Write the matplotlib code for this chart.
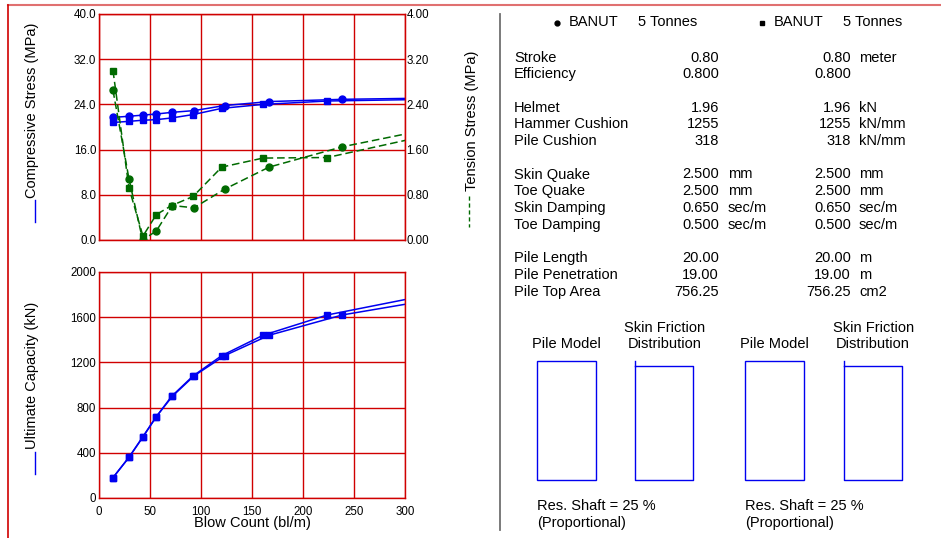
import matplotlib
matplotlib.use("Agg")
import matplotlib.pyplot as plt
from matplotlib.lines import Line2D
from matplotlib.patches import Rectangle
import numpy as np

plt.rcParams['font.family'] = ['Liberation Sans', 'DejaVu Sans']

# blow counts (bl/m) for the two hammer runs; last point lies past the plotted range
blows_a = [13.7, 29.4, 42.8, 56.2, 71.9, 93.1, 123.2, 166.7, 238.6, 356.0]
blows_b = [13.7, 29.4, 43.1, 56.2, 71.2, 92.2, 120.3, 160.8, 223.9, 324.6]

# ultimate capacity (kN) shared by both runs
capacity = [180, 360, 540, 720, 900, 1080, 1260, 1440, 1620, 1800]

# compressive stress (MPa)
comp_a = [21.7, 21.9, 22.1, 22.3, 22.6, 22.9, 23.8, 24.5, 24.9, 25.2]
comp_b = [20.8, 21.0, 21.2, 21.3, 21.6, 22.2, 23.3, 24.0, 24.6, 24.9]

# tension stress (MPa)
tens_a = [2.65, 1.08, 0.00, 0.16, 0.61, 0.57, 0.90, 1.29, 1.65, 2.08]
tens_b = [3.00, 0.92, 0.07, 0.45, 0.61, 0.77, 1.29, 1.45, 1.46, 1.86]

# input summary table
hammer_name = "BANUT"
hammer_size = "5 Tonnes"
param_rows = [
    ("Stroke", "0.80", "", "0.80", "meter"),
    ("Efficiency", "0.800", "", "0.800", ""),
    None,
    ("Helmet", "1.96", "", "1.96", "kN"),
    ("Hammer Cushion", "1255", "", "1255", "kN/mm"),
    ("Pile Cushion", "318", "", "318", "kN/mm"),
    None,
    ("Skin Quake", "2.500", "mm", "2.500", "mm"),
    ("Toe Quake", "2.500", "mm", "2.500", "mm"),
    ("Skin Damping", "0.650", "sec/m", "0.650", "sec/m"),
    ("Toe Damping", "0.500", "sec/m", "0.500", "sec/m"),
    None,
    ("Pile Length", "20.00", "", "20.00", "m"),
    ("Pile Penetration", "19.00", "", "19.00", "m"),
    ("Pile Top Area", "756.25", "", "756.25", "cm2"),
]
res_shaft = 25

W, H = 941, 538
BLUE = "#0000f0"
GREEN = "#006a00"
RED = "#d00000"
DASH = (0, (5, 2.5))


def fx(x):
    return x / W


def fy(y):
    return 1 - y / H


def pos(left, top, right, bottom):
    return [fx(left), fy(bottom), fx(right) - fx(left), fy(top) - fy(bottom)]


fig = plt.figure(figsize=(W / 100, H / 100), dpi=100)


def style_axes(ax):
    ax.set_xlim(0, 300)
    ax.set_xticks(np.arange(0, 301, 50))
    ax.grid(True, color=RED, linewidth=1.0)
    ax.set_axisbelow(True)
    for s in ax.spines.values():
        s.set_color(RED)
        s.set_linewidth(1.0)
    ax.tick_params(length=0, labelsize=8.3, pad=2)


# stresses
ax1 = fig.add_axes(pos(99, 14, 405, 240))
style_axes(ax1)
ax1.set_ylim(0, 40)
ax1.set_yticks(np.arange(0, 40.1, 8))
ax1.set_yticklabels([f"{v:.1f}" for v in np.arange(0, 40.1, 8)])
ax1.set_xticklabels([])
ax1.plot(blows_a, comp_a, color=BLUE, lw=1.1, marker="o", ms=5, mec=BLUE, mfc=BLUE)
ax1.plot(blows_b, comp_b, color=BLUE, lw=1.1, marker="s", ms=5, mec=BLUE, mfc=BLUE)

ax2 = ax1.twinx()
ax2.set_ylim(0, 4)
ax2.set_yticks(np.arange(0, 4.01, 0.8))
ax2.set_yticklabels([f"{v:.2f}" for v in np.arange(0, 4.01, 0.8)])
ax2.tick_params(length=0, labelsize=8.3, pad=1)
for s in ax2.spines.values():
    s.set_color(RED)
ax2.plot(blows_a, tens_a, color=GREEN, lw=1.1, ls=DASH, marker="o", ms=5,
         mec=GREEN, mfc=GREEN)
ax2.plot(blows_b, tens_b, color=GREEN, lw=1.1, ls=DASH, marker="s", ms=5,
         mec=GREEN, mfc=GREEN)

# capacity
ax3 = fig.add_axes(pos(99, 272, 405, 498))
style_axes(ax3)
ax3.set_ylim(0, 2000)
ax3.set_yticks(np.arange(0, 2001, 400))
ax3.tick_params(axis="x", pad=5.5)
ax3.plot(blows_a, capacity, color=BLUE, lw=1.1, marker="s", ms=5, mec=BLUE, mfc=BLUE)
ax3.plot(blows_b, capacity, color=BLUE, lw=1.1, marker="s", ms=5, mec=BLUE, mfc=BLUE)
ax3.set_xlabel("Blow Count (bl/m)", fontsize=10.5, labelpad=-1)

# axis titles with their line keys
fig.text(fx(32), fy(110), "Compressive Stress (MPa)", rotation=90, ha="center", va="center",
         fontsize=10.5)
fig.add_artist(Line2D([fx(35), fx(35)], [fy(200), fy(222)], color=BLUE, lw=1.0))
fig.text(fx(32), fy(375), "Ultimate Capacity (kN)", rotation=90, ha="center", va="center",
         fontsize=10.5)
fig.add_artist(Line2D([fx(35), fx(35)], [fy(452), fy(474)], color=BLUE, lw=1.0))
fig.text(fx(472), fy(121), "Tension Stress (MPa)", rotation=90, ha="center", va="center",
         fontsize=10.5)
fig.add_artist(Line2D([fx(469), fx(469)], [fy(196), fy(227)], color=GREEN, lw=1.0,
                      ls=(0, (3, 2))))

# frame and divider
fig.add_artist(Line2D([fx(8), fx(941)], [fy(5), fy(5)], color="#e07070", lw=1.5))
fig.add_artist(Line2D([fx(8), fx(8)], [fy(5), fy(538)], color=RED, lw=1.2))
fig.add_artist(Line2D([fx(500), fx(500)], [fy(14), fy(530)], color="#707070", lw=1.3))

# header
fs = 10.5
for bx, mk in ((557, "o"), (762, "s")):
    fig.add_artist(Line2D([fx(bx)], [fy(22.5)], marker=mk, ms=3.5, color="black", ls=""))
    fig.text(fx(bx + 12), fy(22.5), hammer_name, fontsize=fs, va="center")
    fig.text(fx(bx + 81), fy(22.5), hammer_size, fontsize=fs, va="center")

# parameter table
row_y = 57.5
for row in param_rows:
    if row is None:
        row_y += 16.5
        continue
    label, v1, u1, v2, u2 = row
    fig.text(fx(514), fy(row_y), label, fontsize=fs, va="center")
    fig.text(fx(719), fy(row_y), v1, fontsize=fs, va="center", ha="right")
    fig.text(fx(728), fy(row_y), u1, fontsize=fs, va="center")
    fig.text(fx(851), fy(row_y), v2, fontsize=fs, va="center", ha="right")
    fig.text(fx(859), fy(row_y), u2, fontsize=fs, va="center")
    row_y += 16.8

# pile model and skin friction sketches
for x0 in (536.7, 745.0):
    fig.text(fx(x0 + 29.5), fy(344.5), "Pile Model", fontsize=fs, va="center", ha="center")
    fig.add_artist(Rectangle((fx(x0), fy(480)), fx(59), fy(360.7) - fy(480),
                             transform=fig.transFigure, fill=False, ec=BLUE, lw=1.0))
    sx = x0 + 98.6
    fig.text(fx(sx + 29.5), fy(327.5), "Skin Friction", fontsize=fs, va="center", ha="center")
    fig.text(fx(sx + 29.5), fy(344.5), "Distribution", fontsize=fs, va="center", ha="center")
    fig.add_artist(Line2D([fx(sx), fx(sx), fx(sx + 58), fx(sx + 58), fx(sx)],
                          [fy(360.7), fy(480), fy(480), fy(366.3), fy(366.3)],
                          color=BLUE, lw=1.0))
    fig.text(fx(x0), fy(506.5), f"Res. Shaft = {res_shaft} %", fontsize=fs, va="center")
    fig.text(fx(x0), fy(523), "(Proportional)", fontsize=fs, va="center")

fig.savefig("out.png", dpi=100)
